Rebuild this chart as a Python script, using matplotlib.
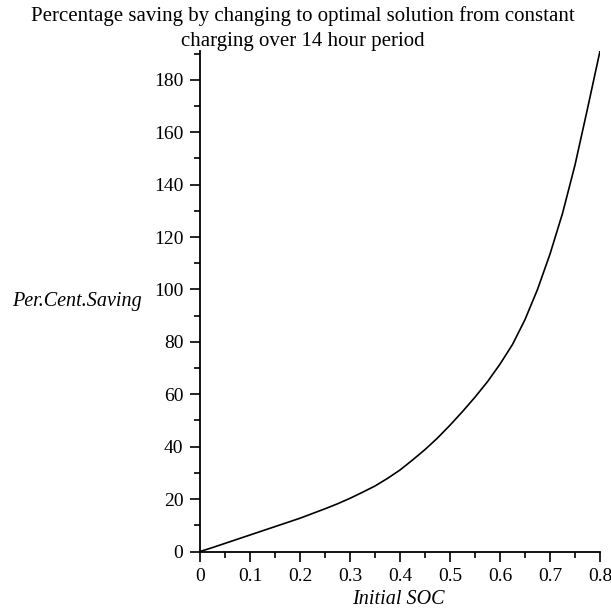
import matplotlib.pyplot as plt
import numpy as np

plt.rcParams['font.family'] = ['Liberation Serif', 'DejaVu Serif']

# values
soc = [0, 0.025, 0.05, 0.075, 0.1, 0.125, 0.15, 0.175, 0.2, 0.225, 0.25, 0.275,
       0.3, 0.325, 0.35, 0.375, 0.4, 0.425, 0.45, 0.475, 0.5, 0.525, 0.55, 0.575,
       0.6, 0.625, 0.65, 0.675, 0.7, 0.725, 0.75, 0.775, 0.8]
saving = [0, 1.5, 3.1, 4.7, 6.3, 7.9, 9.5, 11.1, 12.7, 14.5, 16.3, 18.2,
          20.3, 22.6, 25.0, 27.9, 31.1, 34.9, 38.9, 43.3, 48.2, 53.4, 58.9, 64.8,
          71.5, 79.0, 88.5, 100.0, 113.5, 129.0, 147.5, 169.0, 191.0]

xticks = [0, 0.1, 0.2, 0.3, 0.4, 0.5, 0.6, 0.7, 0.8]
xticklabels = ['0', '0.1', '0.2', '0.3', '0.4', '0.5', '0.6', '0.7', '0.8']
yticks = [0, 20, 40, 60, 80, 100, 120, 140, 160, 180]

fig = plt.figure(figsize=(6.11, 6.13), dpi=100)
ax = fig.add_axes([200/611, 61.5/613, 400/611, 500.5/613])
ax.plot(soc, saving, color='black', lw=1.2)

ax.set_xlim(0, 0.8)
ax.set_ylim(0, 191)
ax.set_xticks(xticks)
ax.set_xticklabels(xticklabels)
ax.set_yticks(yticks)
ax.set_xticks(np.arange(0.05, 0.8, 0.1), minor=True)
ax.set_yticks(np.arange(10, 191, 20), minor=True)

for s in ['top', 'right']:
    ax.spines[s].set_visible(False)
for s in ['left', 'bottom']:
    ax.spines[s].set_linewidth(1.3)
ax.tick_params(which='major', length=7, width=1.2, labelsize=14, pad=5)
ax.tick_params(which='minor', length=4, width=1.2)

ax.set_xlabel('Initial SOC', style='italic', fontsize=14.5, va='center')
ax.xaxis.set_label_coords(0.495, -48/500.5)
ax.set_ylabel('Per.Cent.Saving', style='italic', fontsize=14.5, rotation=0,
              ha='right', va='center')
ax.yaxis.set_label_coords(-58/400, 0.5)

fig.text(302.5/611, 1 - 6/613,
         'Percentage saving by changing to optimal solution from constant\n'
         'charging over 14 hour period', fontsize=15, linespacing=1.4,
         ha='center', va='top')

fig.savefig('out.png', dpi=100)
